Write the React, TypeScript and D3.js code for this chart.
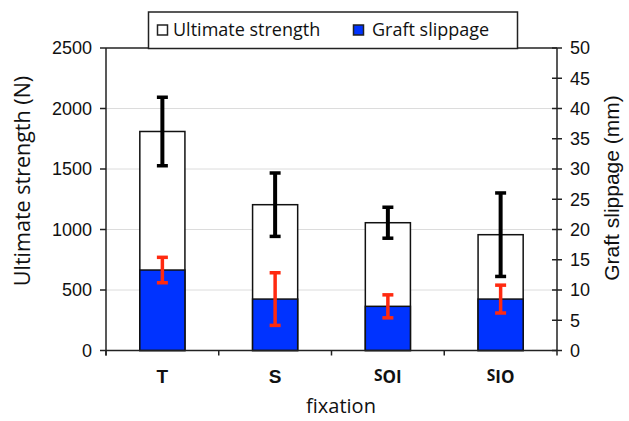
import React from "react";
import * as d3 from "d3";

const categories = ["T", "S", "SOI", "SIO"];
const strengthMean = [1810, 1205, 1056, 957];
const strengthErr = [283, 262, 128, 345];
const slippageMean = [13.3, 8.5, 7.3, 8.5];
const slippageErr = [2.1, 4.35, 1.9, 2.3];
const leftTicks = [0, 500, 1000, 1500, 2000, 2500];
const rightTicks = [0, 5, 10, 15, 20, 25, 30, 35, 40, 45, 50];

const W = 629;
const H = 421;
const L = 106, R = 557, T = 48, B = 350.5;

export default function App() {
  const x = d3.scaleBand<string>().domain(categories).range([L, R]).paddingInner(0.6).paddingOuter(0.3);
  const band = d3.scaleBand<string>().domain(categories).range([L, R]);
  const yL = d3.scaleLinear().domain([0, 2500]).range([B, T]);
  const yR = d3.scaleLinear().domain([0, 50]).range([B, T]);
  const bw = x.bandwidth();
  const blue = "#0033ff";
  const red = "#ff2a10";
  const tickFont = "'Liberation Sans', Arial, sans-serif";
  const humanist = "'Open Sans', 'Noto Sans', sans-serif";

  return (
    <svg width={W} height={H} style={{ position: "absolute", left: 0, top: 0, background: "#fff" }}>
      {leftTicks.filter((t) => t > 0 && t < 2500).map((t) => (
        <line key={"g" + t} x1={L} x2={R} y1={yL(t)} y2={yL(t)} stroke="#dcdcdc" strokeWidth={1} />
      ))}
      <line x1={L} x2={R} y1={T} y2={T} stroke="#222" strokeWidth={1.5} />
      {categories.map((c, i) => {
        const x0 = x(c)!;
        const cx = x0 + bw / 2;
        return (
          <g key={c}>
            <rect x={x0} y={yL(strengthMean[i])} width={bw} height={B - yL(strengthMean[i])} fill="#fff" stroke="#111" strokeWidth={1.5} />
            <rect x={x0} y={yR(slippageMean[i])} width={bw} height={B - yR(slippageMean[i])} fill={blue} stroke="#111" strokeWidth={1.5} />
            <line x1={cx} x2={cx} y1={yL(strengthMean[i] + strengthErr[i])} y2={yL(strengthMean[i] - strengthErr[i])} stroke="#000" strokeWidth={4} />
            <line x1={cx - 5.5} x2={cx + 5.5} y1={yL(strengthMean[i] + strengthErr[i])} y2={yL(strengthMean[i] + strengthErr[i])} stroke="#000" strokeWidth={3.5} />
            <line x1={cx - 5.5} x2={cx + 5.5} y1={yL(strengthMean[i] - strengthErr[i])} y2={yL(strengthMean[i] - strengthErr[i])} stroke="#000" strokeWidth={3.5} />
            <line x1={cx} x2={cx} y1={yR(slippageMean[i] + slippageErr[i])} y2={yR(slippageMean[i] - slippageErr[i])} stroke={red} strokeWidth={3.5} />
            <line x1={cx - 5.5} x2={cx + 5.5} y1={yR(slippageMean[i] + slippageErr[i])} y2={yR(slippageMean[i] + slippageErr[i])} stroke={red} strokeWidth={3.5} />
            <line x1={cx - 5.5} x2={cx + 5.5} y1={yR(slippageMean[i] - slippageErr[i])} y2={yR(slippageMean[i] - slippageErr[i])} stroke={red} strokeWidth={3.5} />
          </g>
        );
      })}
      <line x1={L} x2={L} y1={T} y2={B + 5} stroke="#222" strokeWidth={1.5} />
      {leftTicks.map((t) => (
        <g key={"l" + t}>
          <line x1={L - 6} x2={L} y1={yL(t)} y2={yL(t)} stroke="#222" strokeWidth={1.5} />
          <text x={L - 14} y={yL(t)} dy="0.35em" textAnchor="end" fontFamily={tickFont} fontSize={18} fill="#111">{t}</text>
        </g>
      ))}
      <line x1={R} x2={R} y1={T} y2={B} stroke="#222" strokeWidth={1.5} />
      {rightTicks.map((t) => (
        <g key={"r" + t}>
          <line x1={R - 5} x2={R + 5} y1={yR(t)} y2={yR(t)} stroke="#222" strokeWidth={1.5} />
          <text x={R + 13} y={yR(t)} dy="0.35em" textAnchor="start" fontFamily={tickFont} fontSize={18} fill="#111">{t}</text>
        </g>
      ))}
      <line x1={L} x2={R} y1={B} y2={B} stroke="#222" strokeWidth={1.5} />
      {categories.map((c) => (
        <line key={"xt" + c} x1={band(c)!} x2={band(c)!} y1={B} y2={B + 5} stroke="#222" strokeWidth={1.5} />
      ))}
      <line x1={R} x2={R} y1={B} y2={B + 5} stroke="#222" strokeWidth={1.5} />
      {categories.map((c) =>
        c.length > 1 ? (
          <text key={"xl" + c} x={x(c)! + bw / 2} y={383} textAnchor="middle" fontFamily={humanist} fontWeight="bold" fontSize={17} fill="#111">
            <tspan fontSize={15.5} dy={-2}>{c[0]}</tspan>
            <tspan dy={2}>{c.slice(1)}</tspan>
          </text>
        ) : (
          <text key={"xl" + c} x={x(c)! + bw / 2} y={383} textAnchor="middle" fontFamily={tickFont} fontWeight="bold" fontSize={19} fill="#111">{c}</text>
        )
      )}
      <text x={341} y={413} textAnchor="middle" fontFamily={humanist} fontSize={20} fill="#111">fixation</text>
      <text transform={`translate(30,181) rotate(-90)`} textAnchor="middle" fontFamily={humanist} fontSize={21.5} fill="#111">Ultimate strength (N)</text>
      <text transform={`translate(619,188) rotate(-90)`} textAnchor="middle" fontFamily={tickFont} fontSize={21} fill="#111">Graft slippage (mm)</text>
      <rect x={148.5} y={12} width={369} height={36.5} fill="#fff" stroke="#222" strokeWidth={1.5} />
      <rect x={157.5} y={25} width={10} height={10} fill="#fff" stroke="#222" strokeWidth={1.5} />
      <text x={173} y={30} dy="0.35em" fontFamily={humanist} fontSize={18} fill="#111">Ultimate strength</text>
      <rect x={353.5} y={25} width={10} height={10} fill={blue} stroke="#222" strokeWidth={1.5} />
      <text x={372} y={30} dy="0.35em" fontFamily={humanist} fontSize={18} fill="#111">Graft slippage</text>
    </svg>
  );
}
